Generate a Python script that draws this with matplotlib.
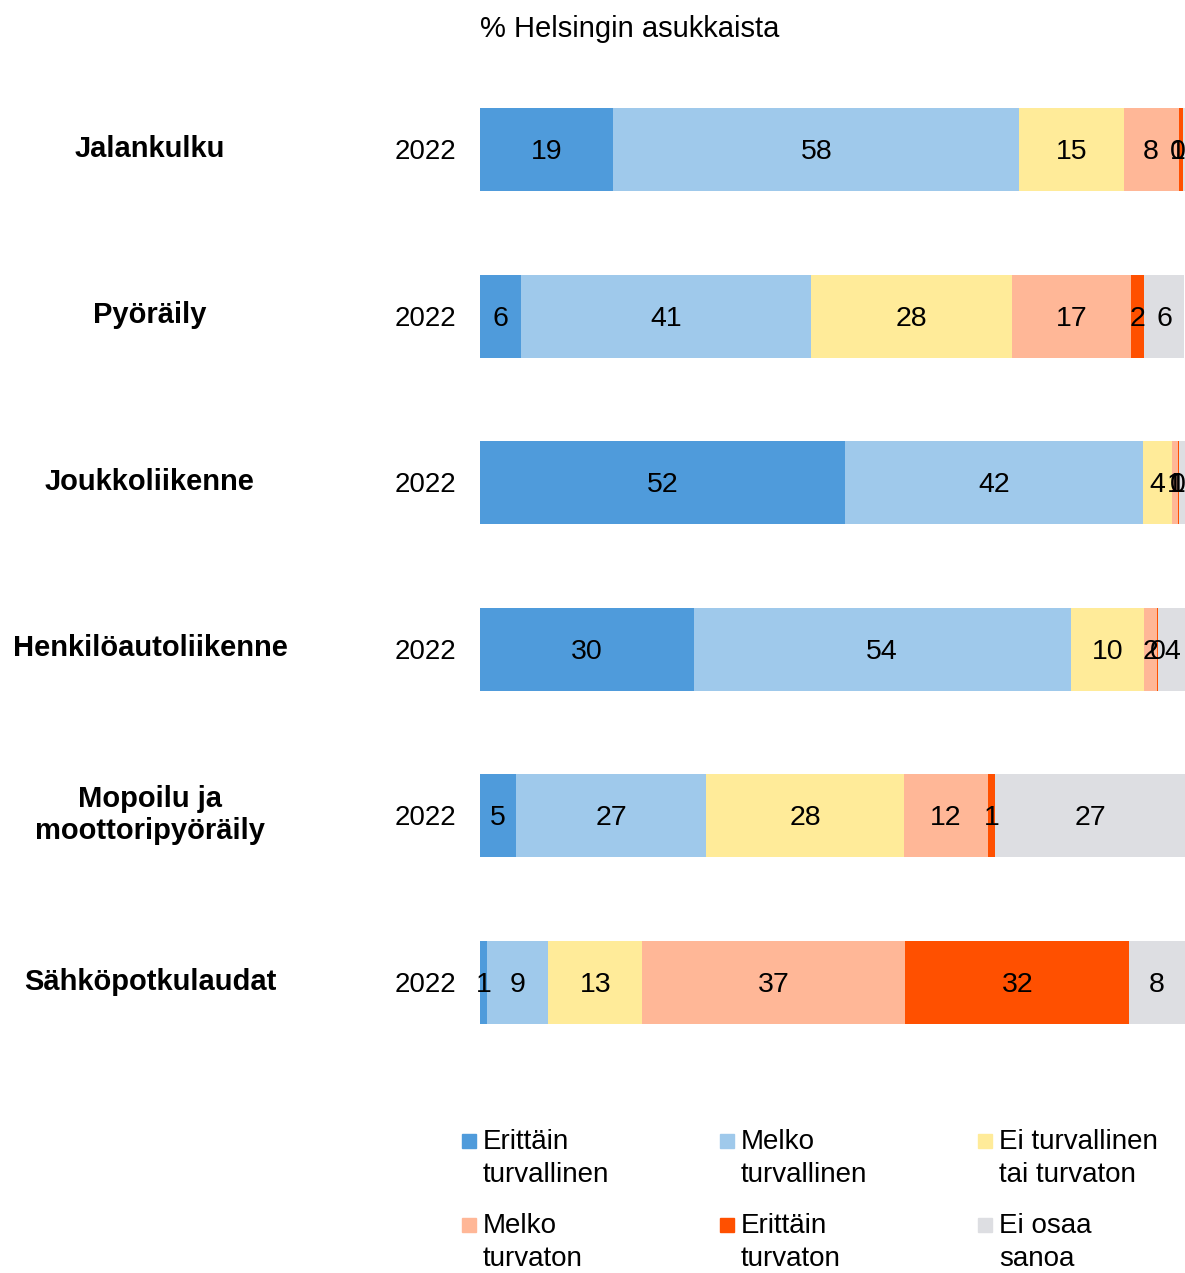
import matplotlib.pyplot as plt
from matplotlib.patches import Rectangle
from matplotlib.transforms import blended_transform_factory

plt.rcParams['font.family'] = ['Liberation Sans', 'DejaVu Sans']

# transport modes, top to bottom
modes = ['Jalankulku', 'Pyöräily', 'Joukkoliikenne', 'Henkilöautoliikenne',
         'Mopoilu ja\nmoottoripyöräily', 'Sähköpotkulaudat']
years = ['2022'] * 6

categories = ['Erittäin\nturvallinen', 'Melko\nturvallinen', 'Ei turvallinen\ntai turvaton',
              'Melko\nturvaton', 'Erittäin\nturvaton', 'Ei osaa\nsanoa']
colors = ['#4f9bdb', '#9fc9eb', '#ffeb99', '#ffb797', '#ff5000', '#dddee2']

# % per category, one list per category (order matches modes)
erittain_turvallinen = [18.9, 5.8, 51.8, 30.3, 5.1, 1.0]
melko_turvallinen = [57.6, 41.1, 42.2, 53.5, 27.0, 8.7]
ei_kumpikaan = [14.8, 28.5, 4.2, 10.4, 28.1, 13.3]
melko_turvaton = [7.8, 17.0, 0.8, 1.8, 11.8, 37.3]
erittain_turvaton = [0.6, 1.8, 0.2, 0.2, 1.1, 31.8]
ei_osaa = [0.3, 5.7, 0.8, 4.0, 27.0, 7.9]
series = [erittain_turvallinen, melko_turvallinen, ei_kumpikaan,
          melko_turvaton, erittain_turvaton, ei_osaa]

W, H = 1185, 1273
fig = plt.figure(figsize=(W / 100, H / 100), dpi=100)
ax = fig.add_axes([480 / W, 1 - 1024 / H, 1 - 480 / W, (1024 - 108) / H])

rows = list(range(len(modes)))
left = [0.0] * len(modes)
for vals, col in zip(series, colors):
    ax.barh(rows, vals, left=left, height=0.5, color=col, edgecolor='none')
    for i, v in enumerate(vals):
        # keep labels of tiny end segments inside the plot
        xc = min(left[i] + v / 2, 99.0)
        ax.text(xc, i + 0.015, '%d' % round(v), ha='center', va='center',
                fontsize=20.5, color='black')
    left = [l + v for l, v in zip(left, vals)]

ax.set_xlim(0, 100)
ax.set_ylim(5.25, -0.25)
ax.axis('off')

tr = blended_transform_factory(fig.transFigure, ax.transData)
for i, (m, y) in enumerate(zip(modes, years)):
    ax.text(150 / W, i - 0.005, m, transform=tr, ha='center', va='center',
            fontsize=21, fontweight='bold', linespacing=1.2)
    ax.text(456 / W, i + 0.015, y, transform=tr, ha='right', va='center', fontsize=20)

fig.text(480 / W, 1 - 29 / H, '% Helsingin asukkaista', ha='left', va='center', fontsize=21)

# legend, 3 columns x 2 rows
for k, (lab, col) in enumerate(zip(categories, colors)):
    cx = 462 + 258 * (k % 3)
    cy = 1134 + 84 * (k // 3)
    fig.patches.append(Rectangle((cx / W, 1 - (cy + 14) / H), 14 / W, 14 / H,
                                 transform=fig.transFigure, color=col))
    fig.text((cx + 21) / W, 1 - (cy - 5) / H, lab, ha='left', va='top',
             fontsize=20, linespacing=1.36)

fig.savefig('out.png', dpi=100)
